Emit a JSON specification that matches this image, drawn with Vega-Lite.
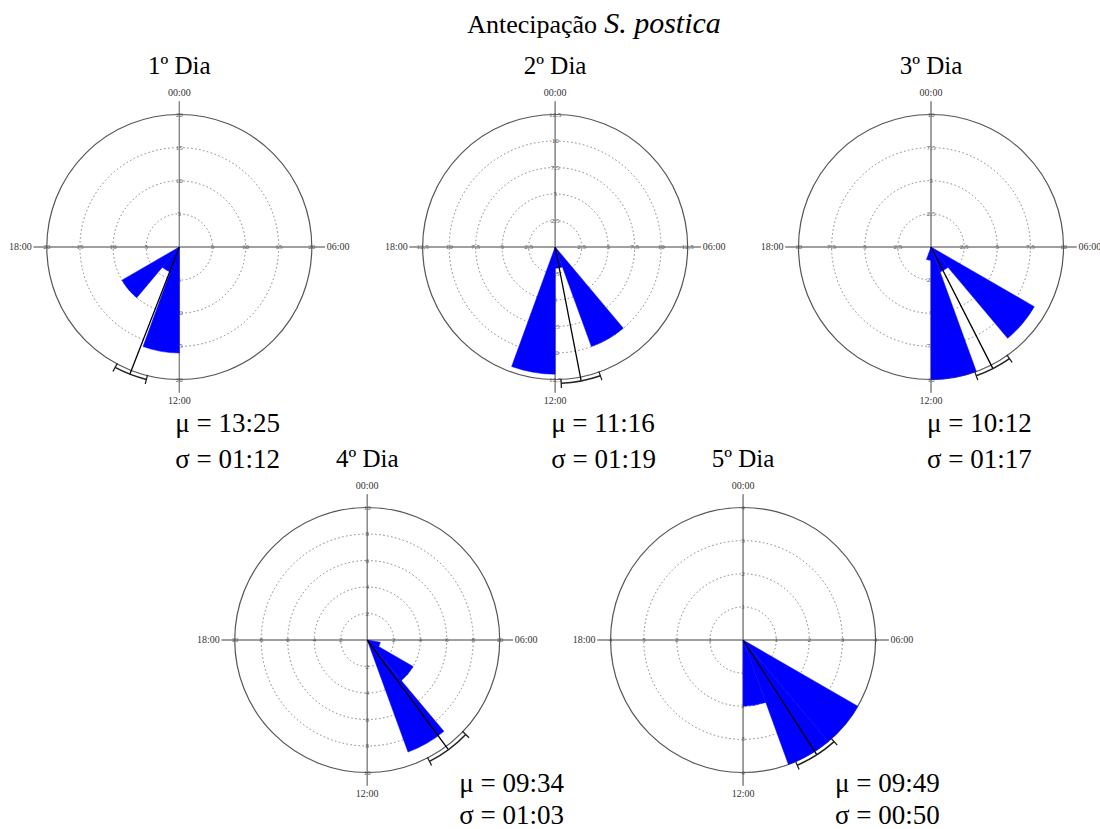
{
"$schema":"https://vega.github.io/schema/vega-lite/v6.json",
"width":1100,"height":829,
"autosize":{"type":"fit","contains":"padding"},
"padding":0,
"background":"white",
"config":{"font":"Liberation Serif","view":{"stroke":null},"text":{"font":"Liberation Serif"},"mark":{"font":"Liberation Serif"}},
"datasets":{
"setores":[
{"dia":1,"inicio":12,"fim":13.3333,"n":16},
{"dia":1,"inicio":13.3333,"fim":14.6667,"n":4},
{"dia":1,"inicio":14.6667,"fim":16,"n":10},
{"dia":2,"inicio":9.3333,"fim":10.6667,"n":10},
{"dia":2,"inicio":10.6667,"fim":12,"n":2},
{"dia":2,"inicio":12,"fim":13.3333,"n":12},
{"dia":3,"inicio":8,"fim":9.3333,"n":9},
{"dia":3,"inicio":9.3333,"fim":10.6667,"n":2},
{"dia":3,"inicio":10.6667,"fim":12,"n":10},
{"dia":3,"inicio":12,"fim":13.3333,"n":1},
{"dia":4,"inicio":6.6667,"fim":8,"n":1},
{"dia":4,"inicio":8,"fim":9.3333,"n":4},
{"dia":4,"inicio":9.3333,"fim":10.6667,"n":9},
{"dia":5,"inicio":8,"fim":9.3333,"n":4},
{"dia":5,"inicio":9.3333,"fim":10.6667,"n":4},
{"dia":5,"inicio":10.6667,"fim":12,"n":2}
],
"estat":[
{"dia":1,"media":13.4167,"ic_lo":12.93,"ic_hi":13.87,"mu":"μ = 13:25","sigma":"σ = 01:12","titulo":"1º Dia"},
{"dia":2,"media":11.2667,"ic_lo":10.71,"ic_hi":11.83,"mu":"μ = 11:16","sigma":"σ = 01:19","titulo":"2º Dia"},
{"dia":3,"media":10.2,"ic_lo":9.66,"ic_hi":10.71,"mu":"μ = 10:12","sigma":"σ = 01:17","titulo":"3º Dia"},
{"dia":4,"media":9.5667,"ic_lo":8.92,"ic_hi":10.19,"mu":"μ = 09:34","sigma":"σ = 01:03","titulo":"4º Dia"},
{"dia":5,"media":9.8167,"ic_lo":9.21,"ic_hi":10.44,"mu":"μ = 09:49","sigma":"σ = 00:50","titulo":"5º Dia"}
],
"aneis":[
{"dia":1,"r":5,"lab":"5"},{"dia":1,"r":10,"lab":"10"},{"dia":1,"r":15,"lab":"15"},{"dia":1,"r":20,"lab":"20"},
{"dia":2,"r":2.5,"lab":"2,5"},{"dia":2,"r":5,"lab":"5"},{"dia":2,"r":7.5,"lab":"7,5"},{"dia":2,"r":10,"lab":"10"},{"dia":2,"r":12.5,"lab":"12,5"},
{"dia":3,"r":2.5,"lab":"2,5"},{"dia":3,"r":5,"lab":"5"},{"dia":3,"r":7.5,"lab":"7,5"},{"dia":3,"r":10,"lab":"10"},
{"dia":4,"r":2,"lab":"2"},{"dia":4,"r":4,"lab":"4"},{"dia":4,"r":6,"lab":"6"},{"dia":4,"r":8,"lab":"8"},{"dia":4,"r":10,"lab":"10"},
{"dia":5,"r":1,"lab":"1"},{"dia":5,"r":2,"lab":"2"},{"dia":5,"r":3,"lab":"3"},{"dia":5,"r":4,"lab":"4"}
],
"relogio":[{"h":0,"t":"00:00"},{"h":6,"t":"06:00"},{"h":12,"t":"12:00"},{"h":18,"t":"18:00"}]
},
"resolve":{"scale":{"radius":"independent"}},
"layer":[
{"encoding":{"x":{"datum":1,"type":"ordinal","scale":{"type":"point","domain":[1,4,2,5,3],"range":[179.3,931],"padding":0},"axis":null},"y":{"datum":1,"type":"ordinal","scale":{"type":"point","domain":[1,2],"range":[247,640],"padding":0},"axis":null}},
"layer":[
{"data":{"name":"aneis"},"transform":[{"filter":"datum.dia == 1 && datum.r < 20"}],"mark":{"type":"arc","filled":false,"stroke":"#808080","strokeWidth":1,"strokeDash":[1.5,2.5]},"encoding":{"theta":{"datum":0,"type":"quantitative","scale":{"domain":[0,24],"range":[0,6.283185307179586]}},"theta2":{"datum":24},"radius":{"field":"r","type":"quantitative","stack":null,"scale":{"type":"linear","domain":[0,20],"range":[0,132.5],"nice":false}}}},
{"data":{"name":"relogio"},"mark":{"type":"arc","filled":false,"stroke":"#808080","strokeWidth":1},"encoding":{"theta":{"field":"h","type":"quantitative","stack":null,"scale":{"domain":[0,24],"range":[0,6.283185307179586]}},"theta2":{"field":"h"},"radius":{"datum":22,"type":"quantitative","scale":{"type":"linear","domain":[0,20],"range":[0,132.5],"nice":false}}}},
{"data":{"name":"aneis"},"transform":[{"filter":"datum.dia == 1 && datum.r == 20"}],"mark":{"type":"arc","filled":false,"stroke":"#555555","strokeWidth":1.2},"encoding":{"theta":{"datum":0,"type":"quantitative"},"theta2":{"datum":24},"radius":{"field":"r","type":"quantitative","stack":null}}},
{"data":{"name":"relogio"},"transform":[{"filter":"datum.h == 0 || datum.h == 12"}],"mark":{"type":"text","font":"Liberation Serif","fontSize":10,"color":"#333333","baseline":"middle","align":"center"},"encoding":{"theta":{"field":"h","type":"quantitative"},"radius":{"datum":23.2,"type":"quantitative"},"text":{"field":"t"}}},
{"data":{"name":"relogio"},"transform":[{"filter":"datum.h == 6"}],"mark":{"type":"text","font":"Liberation Serif","fontSize":10,"color":"#333333","baseline":"middle","align":"left"},"encoding":{"theta":{"field":"h","type":"quantitative"},"radius":{"datum":22.26,"type":"quantitative"},"text":{"field":"t"}}},
{"data":{"name":"relogio"},"transform":[{"filter":"datum.h == 18"}],"mark":{"type":"text","font":"Liberation Serif","fontSize":10,"color":"#333333","baseline":"middle","align":"right"},"encoding":{"theta":{"field":"h","type":"quantitative"},"radius":{"datum":22.26,"type":"quantitative"},"text":{"field":"t"}}},
{"data":{"name":"aneis"},"transform":[{"filter":"datum.dia == 1"}],"mark":{"type":"text","font":"Liberation Serif","fontSize":7,"color":"#555555","baseline":"middle","align":"center"},"encoding":{"theta":{"datum":0,"type":"quantitative"},"radius":{"field":"r","type":"quantitative"},"text":{"field":"lab"}}},
{"data":{"name":"aneis"},"transform":[{"filter":"datum.dia == 1"}],"mark":{"type":"text","font":"Liberation Serif","fontSize":7,"color":"#555555","baseline":"middle","align":"center"},"encoding":{"theta":{"datum":6,"type":"quantitative"},"radius":{"field":"r","type":"quantitative"},"text":{"field":"lab"}}},
{"data":{"name":"aneis"},"transform":[{"filter":"datum.dia == 1"}],"mark":{"type":"text","font":"Liberation Serif","fontSize":7,"color":"#555555","baseline":"middle","align":"center"},"encoding":{"theta":{"datum":12,"type":"quantitative"},"radius":{"field":"r","type":"quantitative"},"text":{"field":"lab"}}},
{"data":{"name":"aneis"},"transform":[{"filter":"datum.dia == 1"}],"mark":{"type":"text","font":"Liberation Serif","fontSize":7,"color":"#555555","baseline":"middle","align":"center"},"encoding":{"theta":{"datum":18,"type":"quantitative"},"radius":{"field":"r","type":"quantitative"},"text":{"field":"lab"}}},
{"data":{"name":"setores"},"transform":[{"filter":"datum.dia == 1"}],"mark":{"type":"arc","fill":"#0000ff","stroke":"#0000ff","strokeWidth":0.5},"encoding":{"theta":{"field":"inicio","type":"quantitative","stack":null},"theta2":{"field":"fim"},"radius":{"field":"n","type":"quantitative","stack":null}}},
{"data":{"name":"estat"},"transform":[{"filter":"datum.dia == 1"}],"mark":{"type":"arc","filled":false,"stroke":"#000000","strokeWidth":1.3},"encoding":{"theta":{"field":"media","type":"quantitative","stack":null},"theta2":{"field":"media"},"radius":{"datum":20.6,"type":"quantitative"}}},
{"data":{"name":"estat"},"transform":[{"filter":"datum.dia == 1"}],"mark":{"type":"arc","filled":false,"stroke":"#222222","strokeWidth":1.5},"encoding":{"theta":{"field":"ic_lo","type":"quantitative","stack":null},"theta2":{"field":"ic_hi"},"radius":{"datum":20.6,"type":"quantitative"},"radius2":{"datum":20.6}}},
{"data":{"name":"estat"},"transform":[{"filter":"datum.dia == 1"}],"mark":{"type":"arc","filled":false,"stroke":"#222222","strokeWidth":1.3},"encoding":{"theta":{"field":"ic_lo","type":"quantitative","stack":null},"theta2":{"field":"ic_lo"},"radius":{"datum":21.3,"type":"quantitative"},"radius2":{"datum":19.9}}},
{"data":{"name":"estat"},"transform":[{"filter":"datum.dia == 1"}],"mark":{"type":"arc","filled":false,"stroke":"#222222","strokeWidth":1.3},"encoding":{"theta":{"field":"ic_hi","type":"quantitative","stack":null},"theta2":{"field":"ic_hi"},"radius":{"datum":21.3,"type":"quantitative"},"radius2":{"datum":19.9}}},
{"data":{"name":"estat"},"transform":[{"filter":"datum.dia == 1"}],"mark":{"type":"text","font":"Liberation Serif","fontSize":25,"color":"#000000","baseline":"alphabetic","align":"center"},"encoding":{"theta":{"datum":0,"type":"quantitative"},"radius":{"datum":26.04,"type":"quantitative"},"text":{"field":"titulo"}}},
{"data":{"name":"estat"},"transform":[{"filter":"datum.dia == 1"}],"mark":{"type":"text","font":"Liberation Serif","fontSize":27,"color":"#000000","baseline":"alphabetic","align":"left"},"encoding":{"theta":{"datum":12.083,"type":"quantitative"},"radius":{"datum":27.925,"type":"quantitative"},"text":{"field":"mu"}}},
{"data":{"name":"estat"},"transform":[{"filter":"datum.dia == 1"}],"mark":{"type":"text","font":"Liberation Serif","fontSize":27,"color":"#000000","baseline":"alphabetic","align":"left"},"encoding":{"theta":{"datum":12.069,"type":"quantitative"},"radius":{"datum":33.358,"type":"quantitative"},"text":{"field":"sigma"}}}
]},
{"encoding":{"x":{"datum":2,"type":"ordinal","scale":{"type":"point","domain":[1,4,2,5,3],"range":[179.3,931],"padding":0},"axis":null},"y":{"datum":1,"type":"ordinal","scale":{"type":"point","domain":[1,2],"range":[247,640],"padding":0},"axis":null}},
"layer":[
{"data":{"name":"aneis"},"transform":[{"filter":"datum.dia == 2 && datum.r < 12.5"}],"mark":{"type":"arc","filled":false,"stroke":"#808080","strokeWidth":1,"strokeDash":[1.5,2.5]},"encoding":{"theta":{"datum":0,"type":"quantitative","scale":{"domain":[0,24],"range":[0,6.283185307179586]}},"theta2":{"datum":24},"radius":{"field":"r","type":"quantitative","stack":null,"scale":{"type":"linear","domain":[0,12.5],"range":[0,132.5],"nice":false}}}},
{"data":{"name":"relogio"},"mark":{"type":"arc","filled":false,"stroke":"#808080","strokeWidth":1},"encoding":{"theta":{"field":"h","type":"quantitative","stack":null},"theta2":{"field":"h"},"radius":{"datum":13.75,"type":"quantitative","scale":{"type":"linear","domain":[0,12.5],"range":[0,132.5],"nice":false}}}},
{"data":{"name":"aneis"},"transform":[{"filter":"datum.dia == 2 && datum.r == 12.5"}],"mark":{"type":"arc","filled":false,"stroke":"#555555","strokeWidth":1.2},"encoding":{"theta":{"datum":0,"type":"quantitative"},"theta2":{"datum":24},"radius":{"field":"r","type":"quantitative","stack":null}}},
{"data":{"name":"relogio"},"transform":[{"filter":"datum.h == 0 || datum.h == 12"}],"mark":{"type":"text","font":"Liberation Serif","fontSize":10,"color":"#333333","baseline":"middle","align":"center"},"encoding":{"theta":{"field":"h","type":"quantitative"},"radius":{"datum":14.5,"type":"quantitative"},"text":{"field":"t"}}},
{"data":{"name":"relogio"},"transform":[{"filter":"datum.h == 6"}],"mark":{"type":"text","font":"Liberation Serif","fontSize":10,"color":"#333333","baseline":"middle","align":"left"},"encoding":{"theta":{"field":"h","type":"quantitative"},"radius":{"datum":13.913,"type":"quantitative"},"text":{"field":"t"}}},
{"data":{"name":"relogio"},"transform":[{"filter":"datum.h == 18"}],"mark":{"type":"text","font":"Liberation Serif","fontSize":10,"color":"#333333","baseline":"middle","align":"right"},"encoding":{"theta":{"field":"h","type":"quantitative"},"radius":{"datum":13.913,"type":"quantitative"},"text":{"field":"t"}}},
{"data":{"name":"aneis"},"transform":[{"filter":"datum.dia == 2"}],"mark":{"type":"text","font":"Liberation Serif","fontSize":7,"color":"#555555","baseline":"middle","align":"center"},"encoding":{"theta":{"datum":0,"type":"quantitative"},"radius":{"field":"r","type":"quantitative"},"text":{"field":"lab"}}},
{"data":{"name":"aneis"},"transform":[{"filter":"datum.dia == 2"}],"mark":{"type":"text","font":"Liberation Serif","fontSize":7,"color":"#555555","baseline":"middle","align":"center"},"encoding":{"theta":{"datum":6,"type":"quantitative"},"radius":{"field":"r","type":"quantitative"},"text":{"field":"lab"}}},
{"data":{"name":"aneis"},"transform":[{"filter":"datum.dia == 2"}],"mark":{"type":"text","font":"Liberation Serif","fontSize":7,"color":"#555555","baseline":"middle","align":"center"},"encoding":{"theta":{"datum":12,"type":"quantitative"},"radius":{"field":"r","type":"quantitative"},"text":{"field":"lab"}}},
{"data":{"name":"aneis"},"transform":[{"filter":"datum.dia == 2"}],"mark":{"type":"text","font":"Liberation Serif","fontSize":7,"color":"#555555","baseline":"middle","align":"center"},"encoding":{"theta":{"datum":18,"type":"quantitative"},"radius":{"field":"r","type":"quantitative"},"text":{"field":"lab"}}},
{"data":{"name":"setores"},"transform":[{"filter":"datum.dia == 2"}],"mark":{"type":"arc","fill":"#0000ff","stroke":"#0000ff","strokeWidth":0.5},"encoding":{"theta":{"field":"inicio","type":"quantitative","stack":null},"theta2":{"field":"fim"},"radius":{"field":"n","type":"quantitative","stack":null}}},
{"data":{"name":"estat"},"transform":[{"filter":"datum.dia == 2"}],"mark":{"type":"arc","filled":false,"stroke":"#000000","strokeWidth":1.3},"encoding":{"theta":{"field":"media","type":"quantitative","stack":null},"theta2":{"field":"media"},"radius":{"datum":12.875,"type":"quantitative"}}},
{"data":{"name":"estat"},"transform":[{"filter":"datum.dia == 2"}],"mark":{"type":"arc","filled":false,"stroke":"#222222","strokeWidth":1.5},"encoding":{"theta":{"field":"ic_lo","type":"quantitative","stack":null},"theta2":{"field":"ic_hi"},"radius":{"datum":12.875,"type":"quantitative"},"radius2":{"datum":12.875}}},
{"data":{"name":"estat"},"transform":[{"filter":"datum.dia == 2"}],"mark":{"type":"arc","filled":false,"stroke":"#222222","strokeWidth":1.3},"encoding":{"theta":{"field":"ic_lo","type":"quantitative","stack":null},"theta2":{"field":"ic_lo"},"radius":{"datum":13.313,"type":"quantitative"},"radius2":{"datum":12.438}}},
{"data":{"name":"estat"},"transform":[{"filter":"datum.dia == 2"}],"mark":{"type":"arc","filled":false,"stroke":"#222222","strokeWidth":1.3},"encoding":{"theta":{"field":"ic_hi","type":"quantitative","stack":null},"theta2":{"field":"ic_hi"},"radius":{"datum":13.313,"type":"quantitative"},"radius2":{"datum":12.438}}},
{"data":{"name":"estat"},"transform":[{"filter":"datum.dia == 2"}],"mark":{"type":"text","font":"Liberation Serif","fontSize":25,"color":"#000000","baseline":"alphabetic","align":"center"},"encoding":{"theta":{"datum":0,"type":"quantitative"},"radius":{"datum":16.274,"type":"quantitative"},"text":{"field":"titulo"}}},
{"data":{"name":"estat"},"transform":[{"filter":"datum.dia == 2"}],"mark":{"type":"text","font":"Liberation Serif","fontSize":27,"color":"#000000","baseline":"alphabetic","align":"left"},"encoding":{"theta":{"datum":12.083,"type":"quantitative"},"radius":{"datum":17.453,"type":"quantitative"},"text":{"field":"mu"}}},
{"data":{"name":"estat"},"transform":[{"filter":"datum.dia == 2"}],"mark":{"type":"text","font":"Liberation Serif","fontSize":27,"color":"#000000","baseline":"alphabetic","align":"left"},"encoding":{"theta":{"datum":12.069,"type":"quantitative"},"radius":{"datum":20.849,"type":"quantitative"},"text":{"field":"sigma"}}},
{"data":{"values":[{"t":"Antecipação"}]},"mark":{"type":"text","font":"Liberation Serif","fontSize":26,"color":"#000000","baseline":"alphabetic","align":"right"},"encoding":{"theta":{"datum":0.74,"type":"quantitative"},"radius":{"datum":20.574,"type":"quantitative"},"text":{"field":"t"}}},
{"data":{"values":[{"t":"S. postica"}]},"mark":{"type":"text","font":"Liberation Serif","fontSize":30,"fontStyle":"italic","color":"#000000","baseline":"alphabetic","align":"left"},"encoding":{"theta":{"datum":0.86,"type":"quantitative"},"radius":{"datum":20.712,"type":"quantitative"},"text":{"field":"t"}}}
]},
{"encoding":{"x":{"datum":3,"type":"ordinal","scale":{"type":"point","domain":[1,4,2,5,3],"range":[179.3,931],"padding":0},"axis":null},"y":{"datum":1,"type":"ordinal","scale":{"type":"point","domain":[1,2],"range":[247,640],"padding":0},"axis":null}},
"layer":[
{"data":{"name":"aneis"},"transform":[{"filter":"datum.dia == 3 && datum.r < 10"}],"mark":{"type":"arc","filled":false,"stroke":"#808080","strokeWidth":1,"strokeDash":[1.5,2.5]},"encoding":{"theta":{"datum":0,"type":"quantitative","scale":{"domain":[0,24],"range":[0,6.283185307179586]}},"theta2":{"datum":24},"radius":{"field":"r","type":"quantitative","stack":null,"scale":{"type":"linear","domain":[0,10],"range":[0,132.5],"nice":false}}}},
{"data":{"name":"relogio"},"mark":{"type":"arc","filled":false,"stroke":"#808080","strokeWidth":1},"encoding":{"theta":{"field":"h","type":"quantitative","stack":null},"theta2":{"field":"h"},"radius":{"datum":11,"type":"quantitative","scale":{"type":"linear","domain":[0,10],"range":[0,132.5],"nice":false}}}},
{"data":{"name":"aneis"},"transform":[{"filter":"datum.dia == 3 && datum.r == 10"}],"mark":{"type":"arc","filled":false,"stroke":"#555555","strokeWidth":1.2},"encoding":{"theta":{"datum":0,"type":"quantitative"},"theta2":{"datum":24},"radius":{"field":"r","type":"quantitative","stack":null}}},
{"data":{"name":"relogio"},"transform":[{"filter":"datum.h == 0 || datum.h == 12"}],"mark":{"type":"text","font":"Liberation Serif","fontSize":10,"color":"#333333","baseline":"middle","align":"center"},"encoding":{"theta":{"field":"h","type":"quantitative"},"radius":{"datum":11.6,"type":"quantitative"},"text":{"field":"t"}}},
{"data":{"name":"relogio"},"transform":[{"filter":"datum.h == 6"}],"mark":{"type":"text","font":"Liberation Serif","fontSize":10,"color":"#333333","baseline":"middle","align":"left"},"encoding":{"theta":{"field":"h","type":"quantitative"},"radius":{"datum":11.13,"type":"quantitative"},"text":{"field":"t"}}},
{"data":{"name":"relogio"},"transform":[{"filter":"datum.h == 18"}],"mark":{"type":"text","font":"Liberation Serif","fontSize":10,"color":"#333333","baseline":"middle","align":"right"},"encoding":{"theta":{"field":"h","type":"quantitative"},"radius":{"datum":11.13,"type":"quantitative"},"text":{"field":"t"}}},
{"data":{"name":"aneis"},"transform":[{"filter":"datum.dia == 3"}],"mark":{"type":"text","font":"Liberation Serif","fontSize":7,"color":"#555555","baseline":"middle","align":"center"},"encoding":{"theta":{"datum":0,"type":"quantitative"},"radius":{"field":"r","type":"quantitative"},"text":{"field":"lab"}}},
{"data":{"name":"aneis"},"transform":[{"filter":"datum.dia == 3"}],"mark":{"type":"text","font":"Liberation Serif","fontSize":7,"color":"#555555","baseline":"middle","align":"center"},"encoding":{"theta":{"datum":6,"type":"quantitative"},"radius":{"field":"r","type":"quantitative"},"text":{"field":"lab"}}},
{"data":{"name":"aneis"},"transform":[{"filter":"datum.dia == 3"}],"mark":{"type":"text","font":"Liberation Serif","fontSize":7,"color":"#555555","baseline":"middle","align":"center"},"encoding":{"theta":{"datum":12,"type":"quantitative"},"radius":{"field":"r","type":"quantitative"},"text":{"field":"lab"}}},
{"data":{"name":"aneis"},"transform":[{"filter":"datum.dia == 3"}],"mark":{"type":"text","font":"Liberation Serif","fontSize":7,"color":"#555555","baseline":"middle","align":"center"},"encoding":{"theta":{"datum":18,"type":"quantitative"},"radius":{"field":"r","type":"quantitative"},"text":{"field":"lab"}}},
{"data":{"name":"setores"},"transform":[{"filter":"datum.dia == 3"}],"mark":{"type":"arc","fill":"#0000ff","stroke":"#0000ff","strokeWidth":0.5},"encoding":{"theta":{"field":"inicio","type":"quantitative","stack":null},"theta2":{"field":"fim"},"radius":{"field":"n","type":"quantitative","stack":null}}},
{"data":{"name":"estat"},"transform":[{"filter":"datum.dia == 3"}],"mark":{"type":"arc","filled":false,"stroke":"#000000","strokeWidth":1.3},"encoding":{"theta":{"field":"media","type":"quantitative","stack":null},"theta2":{"field":"media"},"radius":{"datum":10.3,"type":"quantitative"}}},
{"data":{"name":"estat"},"transform":[{"filter":"datum.dia == 3"}],"mark":{"type":"arc","filled":false,"stroke":"#222222","strokeWidth":1.5},"encoding":{"theta":{"field":"ic_lo","type":"quantitative","stack":null},"theta2":{"field":"ic_hi"},"radius":{"datum":10.3,"type":"quantitative"},"radius2":{"datum":10.3}}},
{"data":{"name":"estat"},"transform":[{"filter":"datum.dia == 3"}],"mark":{"type":"arc","filled":false,"stroke":"#222222","strokeWidth":1.3},"encoding":{"theta":{"field":"ic_lo","type":"quantitative","stack":null},"theta2":{"field":"ic_lo"},"radius":{"datum":10.65,"type":"quantitative"},"radius2":{"datum":9.95}}},
{"data":{"name":"estat"},"transform":[{"filter":"datum.dia == 3"}],"mark":{"type":"arc","filled":false,"stroke":"#222222","strokeWidth":1.3},"encoding":{"theta":{"field":"ic_hi","type":"quantitative","stack":null},"theta2":{"field":"ic_hi"},"radius":{"datum":10.65,"type":"quantitative"},"radius2":{"datum":9.95}}},
{"data":{"name":"estat"},"transform":[{"filter":"datum.dia == 3"}],"mark":{"type":"text","font":"Liberation Serif","fontSize":25,"color":"#000000","baseline":"alphabetic","align":"center"},"encoding":{"theta":{"datum":0,"type":"quantitative"},"radius":{"datum":13.019,"type":"quantitative"},"text":{"field":"titulo"}}},
{"data":{"name":"estat"},"transform":[{"filter":"datum.dia == 3"}],"mark":{"type":"text","font":"Liberation Serif","fontSize":27,"color":"#000000","baseline":"alphabetic","align":"left"},"encoding":{"theta":{"datum":12.083,"type":"quantitative"},"radius":{"datum":13.962,"type":"quantitative"},"text":{"field":"mu"}}},
{"data":{"name":"estat"},"transform":[{"filter":"datum.dia == 3"}],"mark":{"type":"text","font":"Liberation Serif","fontSize":27,"color":"#000000","baseline":"alphabetic","align":"left"},"encoding":{"theta":{"datum":12.069,"type":"quantitative"},"radius":{"datum":16.679,"type":"quantitative"},"text":{"field":"sigma"}}}
]},
{"encoding":{"x":{"datum":4,"type":"ordinal","scale":{"type":"point","domain":[1,4,2,5,3],"range":[179.3,931],"padding":0},"axis":null},"y":{"datum":2,"type":"ordinal","scale":{"type":"point","domain":[1,2],"range":[247,640],"padding":0},"axis":null}},
"layer":[
{"data":{"name":"aneis"},"transform":[{"filter":"datum.dia == 4 && datum.r < 10"}],"mark":{"type":"arc","filled":false,"stroke":"#808080","strokeWidth":1,"strokeDash":[1.5,2.5]},"encoding":{"theta":{"datum":0,"type":"quantitative","scale":{"domain":[0,24],"range":[0,6.283185307179586]}},"theta2":{"datum":24},"radius":{"field":"r","type":"quantitative","stack":null,"scale":{"type":"linear","domain":[0,10],"range":[0,132.5],"nice":false}}}},
{"data":{"name":"relogio"},"mark":{"type":"arc","filled":false,"stroke":"#808080","strokeWidth":1},"encoding":{"theta":{"field":"h","type":"quantitative","stack":null},"theta2":{"field":"h"},"radius":{"datum":11,"type":"quantitative","scale":{"type":"linear","domain":[0,10],"range":[0,132.5],"nice":false}}}},
{"data":{"name":"aneis"},"transform":[{"filter":"datum.dia == 4 && datum.r == 10"}],"mark":{"type":"arc","filled":false,"stroke":"#555555","strokeWidth":1.2},"encoding":{"theta":{"datum":0,"type":"quantitative"},"theta2":{"datum":24},"radius":{"field":"r","type":"quantitative","stack":null}}},
{"data":{"name":"relogio"},"transform":[{"filter":"datum.h == 0 || datum.h == 12"}],"mark":{"type":"text","font":"Liberation Serif","fontSize":10,"color":"#333333","baseline":"middle","align":"center"},"encoding":{"theta":{"field":"h","type":"quantitative"},"radius":{"datum":11.6,"type":"quantitative"},"text":{"field":"t"}}},
{"data":{"name":"relogio"},"transform":[{"filter":"datum.h == 6"}],"mark":{"type":"text","font":"Liberation Serif","fontSize":10,"color":"#333333","baseline":"middle","align":"left"},"encoding":{"theta":{"field":"h","type":"quantitative"},"radius":{"datum":11.13,"type":"quantitative"},"text":{"field":"t"}}},
{"data":{"name":"relogio"},"transform":[{"filter":"datum.h == 18"}],"mark":{"type":"text","font":"Liberation Serif","fontSize":10,"color":"#333333","baseline":"middle","align":"right"},"encoding":{"theta":{"field":"h","type":"quantitative"},"radius":{"datum":11.13,"type":"quantitative"},"text":{"field":"t"}}},
{"data":{"name":"aneis"},"transform":[{"filter":"datum.dia == 4"}],"mark":{"type":"text","font":"Liberation Serif","fontSize":7,"color":"#555555","baseline":"middle","align":"center"},"encoding":{"theta":{"datum":0,"type":"quantitative"},"radius":{"field":"r","type":"quantitative"},"text":{"field":"lab"}}},
{"data":{"name":"aneis"},"transform":[{"filter":"datum.dia == 4"}],"mark":{"type":"text","font":"Liberation Serif","fontSize":7,"color":"#555555","baseline":"middle","align":"center"},"encoding":{"theta":{"datum":6,"type":"quantitative"},"radius":{"field":"r","type":"quantitative"},"text":{"field":"lab"}}},
{"data":{"name":"aneis"},"transform":[{"filter":"datum.dia == 4"}],"mark":{"type":"text","font":"Liberation Serif","fontSize":7,"color":"#555555","baseline":"middle","align":"center"},"encoding":{"theta":{"datum":12,"type":"quantitative"},"radius":{"field":"r","type":"quantitative"},"text":{"field":"lab"}}},
{"data":{"name":"aneis"},"transform":[{"filter":"datum.dia == 4"}],"mark":{"type":"text","font":"Liberation Serif","fontSize":7,"color":"#555555","baseline":"middle","align":"center"},"encoding":{"theta":{"datum":18,"type":"quantitative"},"radius":{"field":"r","type":"quantitative"},"text":{"field":"lab"}}},
{"data":{"name":"setores"},"transform":[{"filter":"datum.dia == 4"}],"mark":{"type":"arc","fill":"#0000ff","stroke":"#0000ff","strokeWidth":0.5},"encoding":{"theta":{"field":"inicio","type":"quantitative","stack":null},"theta2":{"field":"fim"},"radius":{"field":"n","type":"quantitative","stack":null}}},
{"data":{"name":"estat"},"transform":[{"filter":"datum.dia == 4"}],"mark":{"type":"arc","filled":false,"stroke":"#000000","strokeWidth":1.3},"encoding":{"theta":{"field":"media","type":"quantitative","stack":null},"theta2":{"field":"media"},"radius":{"datum":10.3,"type":"quantitative"}}},
{"data":{"name":"estat"},"transform":[{"filter":"datum.dia == 4"}],"mark":{"type":"arc","filled":false,"stroke":"#222222","strokeWidth":1.5},"encoding":{"theta":{"field":"ic_lo","type":"quantitative","stack":null},"theta2":{"field":"ic_hi"},"radius":{"datum":10.3,"type":"quantitative"},"radius2":{"datum":10.3}}},
{"data":{"name":"estat"},"transform":[{"filter":"datum.dia == 4"}],"mark":{"type":"arc","filled":false,"stroke":"#222222","strokeWidth":1.3},"encoding":{"theta":{"field":"ic_lo","type":"quantitative","stack":null},"theta2":{"field":"ic_lo"},"radius":{"datum":10.65,"type":"quantitative"},"radius2":{"datum":9.95}}},
{"data":{"name":"estat"},"transform":[{"filter":"datum.dia == 4"}],"mark":{"type":"arc","filled":false,"stroke":"#222222","strokeWidth":1.3},"encoding":{"theta":{"field":"ic_hi","type":"quantitative","stack":null},"theta2":{"field":"ic_hi"},"radius":{"datum":10.65,"type":"quantitative"},"radius2":{"datum":9.95}}},
{"data":{"name":"estat"},"transform":[{"filter":"datum.dia == 4"}],"mark":{"type":"text","font":"Liberation Serif","fontSize":25,"color":"#000000","baseline":"alphabetic","align":"center"},"encoding":{"theta":{"datum":0,"type":"quantitative"},"radius":{"datum":13.019,"type":"quantitative"},"text":{"field":"titulo"}}},
{"data":{"name":"estat"},"transform":[{"filter":"datum.dia == 4"}],"mark":{"type":"text","font":"Liberation Serif","fontSize":27,"color":"#000000","baseline":"alphabetic","align":"left"},"encoding":{"theta":{"datum":9.921,"type":"quantitative"},"radius":{"datum":13.411,"type":"quantitative"},"text":{"field":"mu"}}},
{"data":{"name":"estat"},"transform":[{"filter":"datum.dia == 4"}],"mark":{"type":"text","font":"Liberation Serif","fontSize":27,"color":"#000000","baseline":"alphabetic","align":"left"},"encoding":{"theta":{"datum":10.229,"type":"quantitative"},"radius":{"datum":15.525,"type":"quantitative"},"text":{"field":"sigma"}}}
]},
{"encoding":{"x":{"datum":5,"type":"ordinal","scale":{"type":"point","domain":[1,4,2,5,3],"range":[179.3,931],"padding":0},"axis":null},"y":{"datum":2,"type":"ordinal","scale":{"type":"point","domain":[1,2],"range":[247,640],"padding":0},"axis":null}},
"layer":[
{"data":{"name":"aneis"},"transform":[{"filter":"datum.dia == 5 && datum.r < 4"}],"mark":{"type":"arc","filled":false,"stroke":"#808080","strokeWidth":1,"strokeDash":[1.5,2.5]},"encoding":{"theta":{"datum":0,"type":"quantitative","scale":{"domain":[0,24],"range":[0,6.283185307179586]}},"theta2":{"datum":24},"radius":{"field":"r","type":"quantitative","stack":null,"scale":{"type":"linear","domain":[0,4],"range":[0,132.5],"nice":false}}}},
{"data":{"name":"relogio"},"mark":{"type":"arc","filled":false,"stroke":"#808080","strokeWidth":1},"encoding":{"theta":{"field":"h","type":"quantitative","stack":null},"theta2":{"field":"h"},"radius":{"datum":4.4,"type":"quantitative","scale":{"type":"linear","domain":[0,4],"range":[0,132.5],"nice":false}}}},
{"data":{"name":"aneis"},"transform":[{"filter":"datum.dia == 5 && datum.r == 4"}],"mark":{"type":"arc","filled":false,"stroke":"#555555","strokeWidth":1.2},"encoding":{"theta":{"datum":0,"type":"quantitative"},"theta2":{"datum":24},"radius":{"field":"r","type":"quantitative","stack":null}}},
{"data":{"name":"relogio"},"transform":[{"filter":"datum.h == 0 || datum.h == 12"}],"mark":{"type":"text","font":"Liberation Serif","fontSize":10,"color":"#333333","baseline":"middle","align":"center"},"encoding":{"theta":{"field":"h","type":"quantitative"},"radius":{"datum":4.64,"type":"quantitative"},"text":{"field":"t"}}},
{"data":{"name":"relogio"},"transform":[{"filter":"datum.h == 6"}],"mark":{"type":"text","font":"Liberation Serif","fontSize":10,"color":"#333333","baseline":"middle","align":"left"},"encoding":{"theta":{"field":"h","type":"quantitative"},"radius":{"datum":4.452,"type":"quantitative"},"text":{"field":"t"}}},
{"data":{"name":"relogio"},"transform":[{"filter":"datum.h == 18"}],"mark":{"type":"text","font":"Liberation Serif","fontSize":10,"color":"#333333","baseline":"middle","align":"right"},"encoding":{"theta":{"field":"h","type":"quantitative"},"radius":{"datum":4.452,"type":"quantitative"},"text":{"field":"t"}}},
{"data":{"name":"aneis"},"transform":[{"filter":"datum.dia == 5"}],"mark":{"type":"text","font":"Liberation Serif","fontSize":7,"color":"#555555","baseline":"middle","align":"center"},"encoding":{"theta":{"datum":0,"type":"quantitative"},"radius":{"field":"r","type":"quantitative"},"text":{"field":"lab"}}},
{"data":{"name":"aneis"},"transform":[{"filter":"datum.dia == 5"}],"mark":{"type":"text","font":"Liberation Serif","fontSize":7,"color":"#555555","baseline":"middle","align":"center"},"encoding":{"theta":{"datum":6,"type":"quantitative"},"radius":{"field":"r","type":"quantitative"},"text":{"field":"lab"}}},
{"data":{"name":"aneis"},"transform":[{"filter":"datum.dia == 5"}],"mark":{"type":"text","font":"Liberation Serif","fontSize":7,"color":"#555555","baseline":"middle","align":"center"},"encoding":{"theta":{"datum":12,"type":"quantitative"},"radius":{"field":"r","type":"quantitative"},"text":{"field":"lab"}}},
{"data":{"name":"aneis"},"transform":[{"filter":"datum.dia == 5"}],"mark":{"type":"text","font":"Liberation Serif","fontSize":7,"color":"#555555","baseline":"middle","align":"center"},"encoding":{"theta":{"datum":18,"type":"quantitative"},"radius":{"field":"r","type":"quantitative"},"text":{"field":"lab"}}},
{"data":{"name":"setores"},"transform":[{"filter":"datum.dia == 5"}],"mark":{"type":"arc","fill":"#0000ff","stroke":"#0000ff","strokeWidth":0.5},"encoding":{"theta":{"field":"inicio","type":"quantitative","stack":null},"theta2":{"field":"fim"},"radius":{"field":"n","type":"quantitative","stack":null}}},
{"data":{"name":"estat"},"transform":[{"filter":"datum.dia == 5"}],"mark":{"type":"arc","filled":false,"stroke":"#000000","strokeWidth":1.3},"encoding":{"theta":{"field":"media","type":"quantitative","stack":null},"theta2":{"field":"media"},"radius":{"datum":4.12,"type":"quantitative"}}},
{"data":{"name":"estat"},"transform":[{"filter":"datum.dia == 5"}],"mark":{"type":"arc","filled":false,"stroke":"#222222","strokeWidth":1.5},"encoding":{"theta":{"field":"ic_lo","type":"quantitative","stack":null},"theta2":{"field":"ic_hi"},"radius":{"datum":4.12,"type":"quantitative"},"radius2":{"datum":4.12}}},
{"data":{"name":"estat"},"transform":[{"filter":"datum.dia == 5"}],"mark":{"type":"arc","filled":false,"stroke":"#222222","strokeWidth":1.3},"encoding":{"theta":{"field":"ic_lo","type":"quantitative","stack":null},"theta2":{"field":"ic_lo"},"radius":{"datum":4.26,"type":"quantitative"},"radius2":{"datum":3.98}}},
{"data":{"name":"estat"},"transform":[{"filter":"datum.dia == 5"}],"mark":{"type":"arc","filled":false,"stroke":"#222222","strokeWidth":1.3},"encoding":{"theta":{"field":"ic_hi","type":"quantitative","stack":null},"theta2":{"field":"ic_hi"},"radius":{"datum":4.26,"type":"quantitative"},"radius2":{"datum":3.98}}},
{"data":{"name":"estat"},"transform":[{"filter":"datum.dia == 5"}],"mark":{"type":"text","font":"Liberation Serif","fontSize":25,"color":"#000000","baseline":"alphabetic","align":"center"},"encoding":{"theta":{"datum":0,"type":"quantitative"},"radius":{"datum":5.208,"type":"quantitative"},"text":{"field":"titulo"}}},
{"data":{"name":"estat"},"transform":[{"filter":"datum.dia == 5"}],"mark":{"type":"text","font":"Liberation Serif","fontSize":27,"color":"#000000","baseline":"alphabetic","align":"left"},"encoding":{"theta":{"datum":9.921,"type":"quantitative"},"radius":{"datum":5.3645,"type":"quantitative"},"text":{"field":"mu"}}},
{"data":{"name":"estat"},"transform":[{"filter":"datum.dia == 5"}],"mark":{"type":"text","font":"Liberation Serif","fontSize":27,"color":"#000000","baseline":"alphabetic","align":"left"},"encoding":{"theta":{"datum":10.229,"type":"quantitative"},"radius":{"datum":6.21,"type":"quantitative"},"text":{"field":"sigma"}}}
]}
]
}
